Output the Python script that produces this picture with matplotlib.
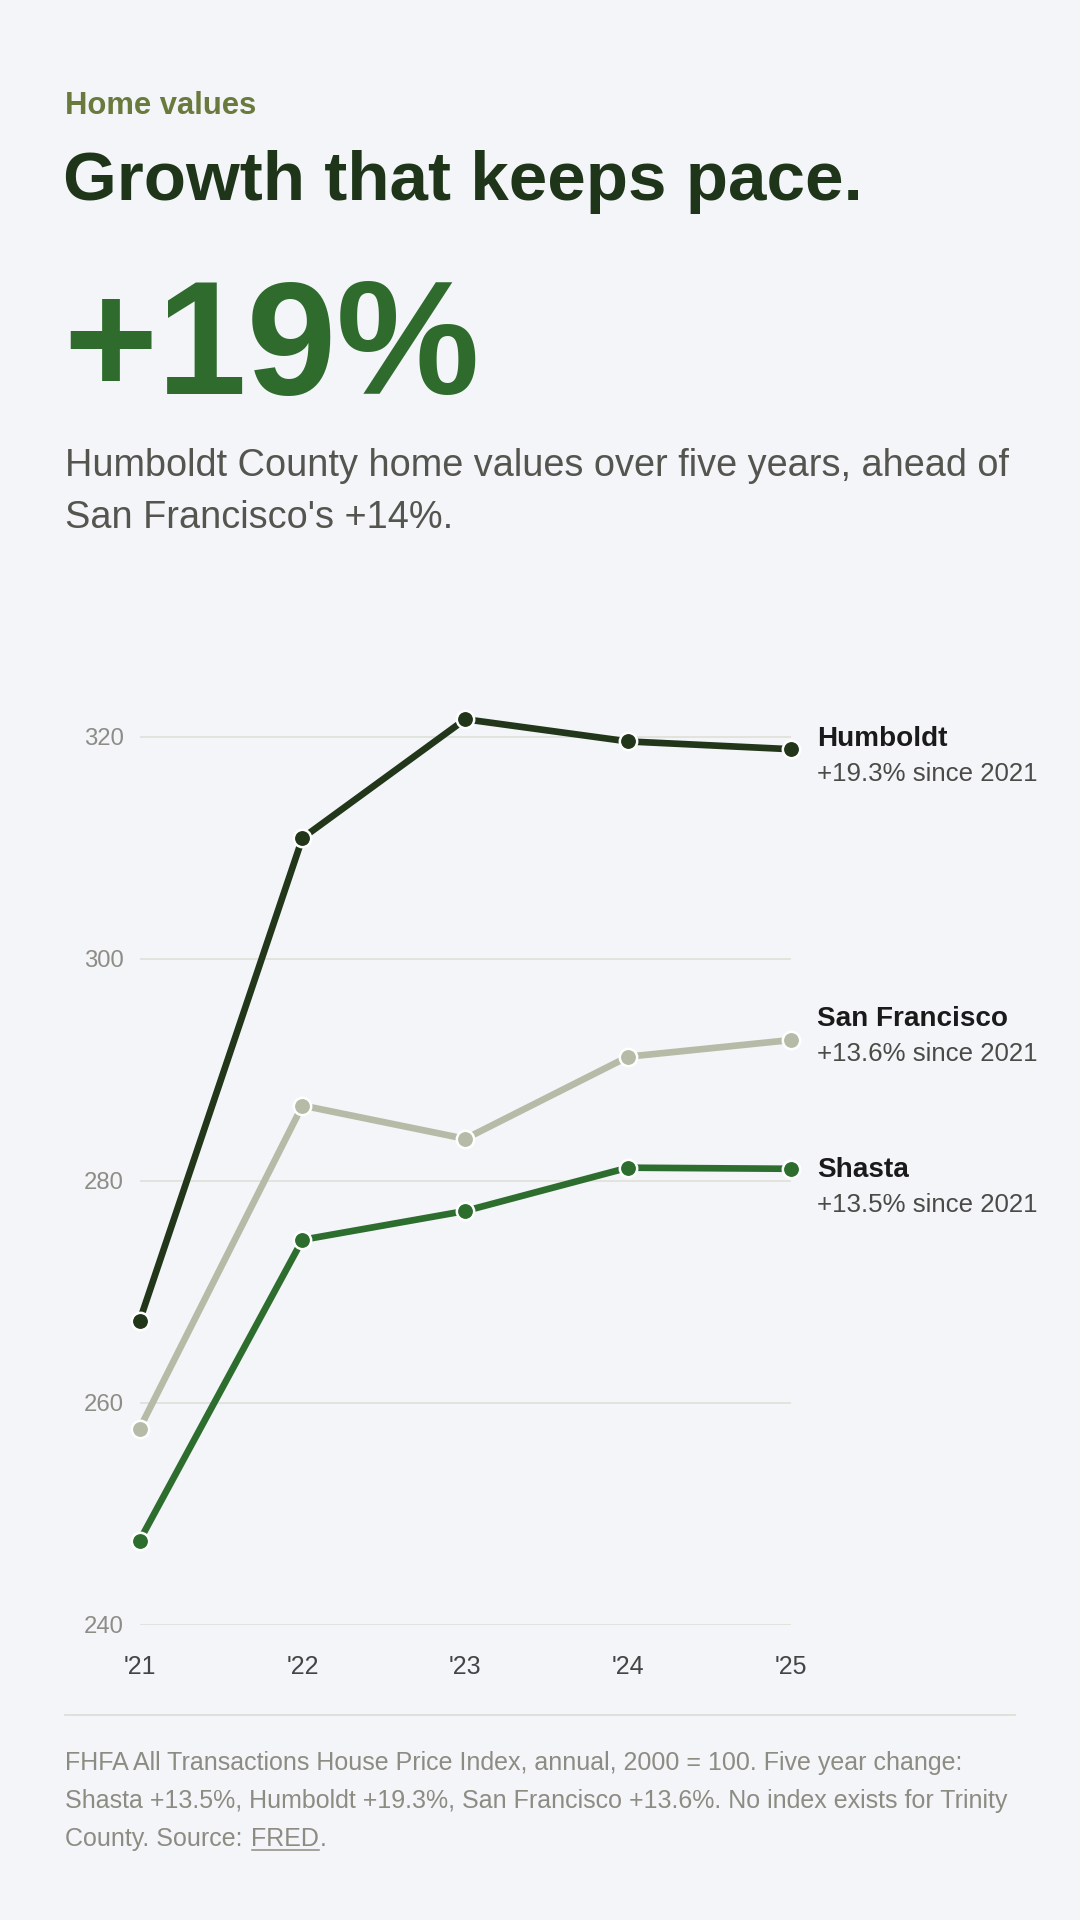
import matplotlib
matplotlib.use("Agg")
from matplotlib import pyplot as plt
from matplotlib import font_manager, ft2font
from matplotlib.font_manager import FontProperties
from matplotlib.transforms import offset_copy

# data (FHFA HPI, 2000 = 100)
years = ["'21", "'22", "'23", "'24", "'25"]
humboldt = [267.4, 310.9, 321.6, 319.6, 318.9]
san_francisco = [257.7, 286.8, 283.8, 291.2, 292.7]
shasta = [247.6, 274.7, 277.3, 281.2, 281.1]
series_names = ["Humboldt", "San Francisco", "Shasta"]
series_notes = ["+19.3% since 2021", "+13.6% since 2021", "+13.5% since 2021"]
y_ticks = [240, 260, 280, 300, 320]

BG = "#f3f5f9"
C_HUM = "#22361a"
C_SF = "#b6bba7"
C_SHA = "#2d6e2e"
FONT = "Liberation Sans"

W, H = 1080, 1920

def fx(x):
    return x / W

def fy(y):
    return 1 - y / H

plt.rcParams["font.family"] = [FONT, "DejaVu Sans"]

fig = plt.figure(figsize=(W / 100, H / 100), dpi=100, facecolor=BG)

# header block
fig.text(fx(65), fy(114), "Home values", fontsize=22.3, fontweight="bold",
         color="#6a7a3c", va="baseline")
fig.text(fx(63), fy(200), "Growth that keeps pace.", fontsize=49.8,
         fontweight="bold", color="#1f3519", va="baseline")
fig.text(fx(63), fy(394), "+19%", fontsize=116, fontweight="bold",
         color="#2e6b2d", va="baseline")
fig.text(fx(65), fy(476), "Humboldt County home values over five years, ahead of",
         fontsize=27.3, color="#55554f", va="baseline")
fig.text(fx(65), fy(528), "San Francisco's +14%.",
         fontsize=27.3, color="#55554f", va="baseline")

# chart area: '21 at x=140, '25 at x=791, 240 at y=1625, 11.1 px per unit
px_per_unit = 11.1
ymin, ymax = 240, 325
ax_left, ax_right = 139.6, 791
ax_bottom = 1625
ax = fig.add_axes([fx(ax_left), fy(ax_bottom), (ax_right - ax_left) / W,
                   (ymax - ymin) * px_per_unit / H])
ax.set_facecolor(BG)
xs = list(range(len(years)))

for vals, col in [(shasta, C_SHA), (san_francisco, C_SF), (humboldt, C_HUM)]:
    ax.plot(xs, vals, color=col, lw=4.8, marker="o", ms=12.5, mfc=col,
            mec="white", mew=1.8, clip_on=False, zorder=3,
            solid_capstyle="butt")

ax.set_xlim(0, len(years) - 1)
ax.set_ylim(ymin, ymax)
ax.set_xticks(xs)
ax.set_xticklabels(years)
ax.set_yticks(y_ticks)
ax.grid(axis="y", color="#e2e3dc", lw=1.4, zorder=0)
ax.tick_params(axis="x", length=0, pad=21.4, labelsize=18, labelcolor="#444444")
ax.tick_params(axis="y", length=0, pad=11.2, labelsize=17.2, labelcolor="#8d8d86")
for s in ax.spines.values():
    s.set_visible(False)

# end labels (name baseline positions in data units, nudged apart)
label_y = [319.2, 294.0, 280.4]
name_tr = offset_copy(ax.transData, fig=fig, x=25.7, y=0, units="dots")
note_tr = offset_copy(ax.transData, fig=fig, x=25.7, y=-35, units="dots")
for name, note, ly in zip(series_names, series_notes, label_y):
    ax.text(len(years) - 1, ly, name, transform=name_tr, fontsize=20.1,
            fontweight="bold", color="#1a1a1a", va="baseline", ha="left",
            clip_on=False)
    ax.text(len(years) - 1, ly, note, transform=note_tr, fontsize=18.6,
            color="#4a4a46", va="baseline", ha="left", clip_on=False)

# footer
fig.add_artist(plt.Line2D([fx(65), fx(1015)], [fy(1715), fy(1715)],
                          color="#dfe0da", lw=1.4))
FOOT = 18.0
FOOT_C = "#8c8c82"
LINE_GAP = 38
foot_lines = [
    "FHFA All Transactions House Price Index, annual, 2000 = 100. Five year change:",
    "Shasta +13.5%, Humboldt +19.3%, San Francisco +13.6%. No index exists for Trinity",
]
for i, line in enumerate(foot_lines):
    fig.text(fx(65), fy(1770 + LINE_GAP * i), line, fontsize=FOOT, color=FOOT_C,
             va="baseline")

# last line with underlined link
font = ft2font.FT2Font(font_manager.findfont(FontProperties(family=FONT)))
font.set_size(FOOT, 100)

def advance(s):
    return sum(font.load_char(ord(c)).linearHoriAdvance / 65536 for c in s)

y3 = 1770 + LINE_GAP * 2
prefix = "County. Source: "
x_link = 65 + advance(prefix)
x_dot = x_link + advance("FRED")
fig.text(fx(65), fy(y3), prefix, fontsize=FOOT, color=FOOT_C, va="baseline")
fig.text(fx(x_link), fy(y3), "FRED", fontsize=FOOT, color=FOOT_C, va="baseline")
fig.text(fx(x_dot), fy(y3), ".", fontsize=FOOT, color=FOOT_C, va="baseline")
fig.add_artist(plt.Line2D([fx(x_link + 1), fx(x_dot)], [fy(y3 + 3.5), fy(y3 + 3.5)],
                          color=FOOT_C, lw=1.1))

fig.savefig("out.png", dpi=100, facecolor=BG)
